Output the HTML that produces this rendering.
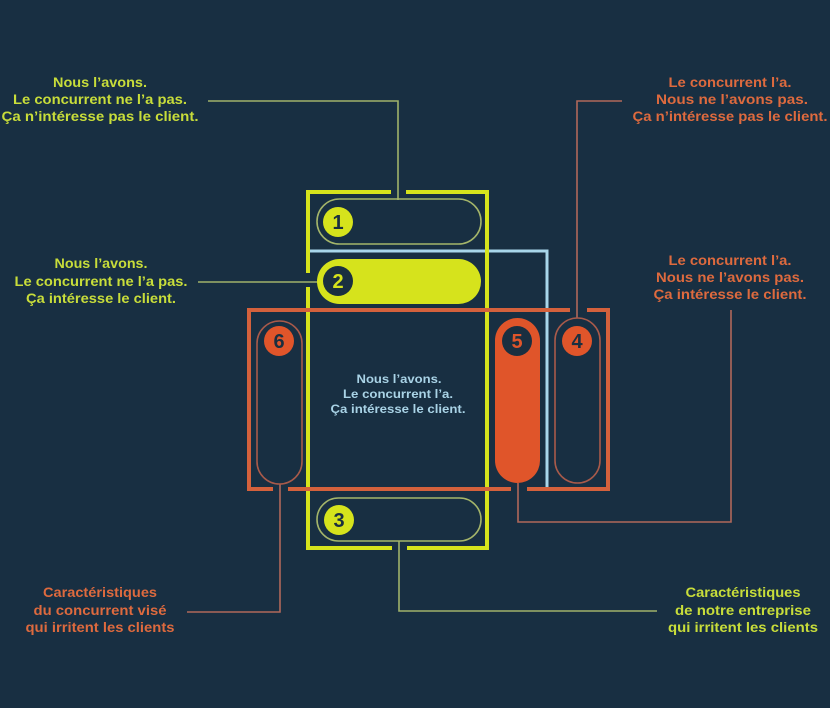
<!DOCTYPE html>
<html>
<head>
<meta charset="utf-8">
<style>
  html,body{margin:0;padding:0;background:#182f42;}
  svg{display:block;}
  text{font-family:"Liberation Sans",sans-serif;font-weight:bold;}
</style>
</head>
<body>
<svg width="830" height="708" viewBox="0 0 830 708" xmlns="http://www.w3.org/2000/svg">
  <rect width="830" height="708" fill="#182f42"/>

  <!-- connectors -->
  <g fill="none" stroke-width="1.6">
    <path d="M208,101 H398 V200" stroke="#9fb26a"/>
    <path d="M198,282 H318" stroke="#9fb26a"/>
    <path d="M399,541 V611 H657" stroke="#9fb26a"/>
    <path d="M622,101 H577 V318" stroke="#b0685a"/>
    <path d="M731,310 V522 H518 V483" stroke="#b0685a"/>
    <path d="M187,612 H280 V484" stroke="#b0685a"/>
  </g>

  <!-- light blue line -->
  <path d="M308,251 H547 V487" fill="none" stroke="#a8d6ea" stroke-width="3"/>

  <!-- yellow frame -->
  <path d="M391,192 H308 V273 M308,287 V548 H392 M407,548 H487 V192 H406" fill="none" stroke="#d6e31c" stroke-width="4"/>

  <!-- orange frame -->
  <path d="M570,310 H249 V489 H273 M288,489 H511 M527,489 H608 V310 H587" fill="none" stroke="#d4613c" stroke-width="4"/>

  <!-- pills -->
  <rect x="317" y="199" width="164" height="45" rx="22.5" fill="none" stroke="#a4b56a" stroke-width="1.6"/>
  <rect x="317" y="259" width="164" height="45" rx="22.5" fill="#d6e31c"/>
  <rect x="317" y="498" width="164" height="43" rx="21.5" fill="none" stroke="#a4b56a" stroke-width="1.6"/>
  <rect x="257" y="321" width="45" height="163" rx="22.5" fill="none" stroke="#a85a4a" stroke-width="1.6"/>
  <rect x="495" y="318" width="45" height="165" rx="22.5" fill="#e0552a"/>
  <rect x="555" y="318" width="45" height="165" rx="22.5" fill="none" stroke="#a85a4a" stroke-width="1.6"/>

  <!-- numbered circles -->
  <circle cx="338" cy="222" r="15" fill="#d6e31c"/>
  <text x="338" y="229" font-size="20" text-anchor="middle" fill="#1a2f40">1</text>
  <circle cx="338" cy="281" r="15" fill="#1a2f40"/>
  <text x="338" y="288" font-size="20" text-anchor="middle" fill="#d6e31c">2</text>
  <circle cx="339" cy="520" r="15" fill="#d6e31c"/>
  <text x="339" y="527" font-size="20" text-anchor="middle" fill="#1a2f40">3</text>
  <circle cx="577" cy="341" r="15" fill="#e0552a"/>
  <text x="577" y="348" font-size="20" text-anchor="middle" fill="#1a2f40">4</text>
  <circle cx="517" cy="341" r="15" fill="#1a2f40"/>
  <text x="517" y="348" font-size="20" text-anchor="middle" fill="#e0552a">5</text>
  <circle cx="279" cy="341" r="15" fill="#e0552a"/>
  <text x="279" y="348" font-size="20" text-anchor="middle" fill="#1a2f40">6</text>

  <!-- top-left text -->
  <g fill="#c8dd3a" font-size="14" text-anchor="middle">
    <text x="100" y="87" textLength="94" lengthAdjust="spacingAndGlyphs">Nous l’avons.</text>
    <text x="100" y="104" textLength="174" lengthAdjust="spacingAndGlyphs">Le concurrent ne l’a pas.</text>
    <text x="100" y="121" textLength="197" lengthAdjust="spacingAndGlyphs">Ça n’intéresse  pas le client.</text>
  </g>

  <!-- mid-left text -->
  <g fill="#c8dd3a" font-size="14" text-anchor="middle">
    <text x="101" y="268" textLength="93" lengthAdjust="spacingAndGlyphs">Nous l’avons.</text>
    <text x="101" y="286" textLength="173" lengthAdjust="spacingAndGlyphs">Le concurrent ne l’a pas.</text>
    <text x="101" y="303" textLength="150" lengthAdjust="spacingAndGlyphs">Ça intéresse  le client.</text>
  </g>

  <!-- top-right text -->
  <g fill="#de6a3e" font-size="14" text-anchor="middle">
    <text x="730" y="87" textLength="123" lengthAdjust="spacingAndGlyphs">Le concurrent l’a.</text>
    <text x="732" y="104" textLength="152" lengthAdjust="spacingAndGlyphs">Nous ne l’avons pas.</text>
    <text x="730" y="121" textLength="195" lengthAdjust="spacingAndGlyphs">Ça n’intéresse  pas le client.</text>
  </g>

  <!-- mid-right text -->
  <g fill="#de6a3e" font-size="14" text-anchor="middle">
    <text x="730" y="265" textLength="123" lengthAdjust="spacingAndGlyphs">Le concurrent l’a.</text>
    <text x="730" y="282" textLength="148" lengthAdjust="spacingAndGlyphs">Nous ne l’avons pas.</text>
    <text x="730" y="299" textLength="153" lengthAdjust="spacingAndGlyphs">Ça intéresse  le client.</text>
  </g>

  <!-- center text -->
  <g fill="#a9d3e6" font-size="12" text-anchor="middle">
    <text x="399" y="383" textLength="85" lengthAdjust="spacingAndGlyphs">Nous l’avons.</text>
    <text x="398" y="398" textLength="110" lengthAdjust="spacingAndGlyphs">Le concurrent l’a.</text>
    <text x="398" y="413" textLength="135" lengthAdjust="spacingAndGlyphs">Ça intéresse le client.</text>
  </g>

  <!-- bottom-left text -->
  <g fill="#de6a3e" font-size="14" text-anchor="middle">
    <text x="100" y="597" textLength="114" lengthAdjust="spacingAndGlyphs">Caractéristiques</text>
    <text x="100" y="615" textLength="133" lengthAdjust="spacingAndGlyphs">du concurrent visé</text>
    <text x="100" y="632" textLength="149" lengthAdjust="spacingAndGlyphs">qui irritent les clients</text>
  </g>

  <!-- bottom-right text -->
  <g fill="#c8dd3a" font-size="14" text-anchor="middle">
    <text x="743" y="597" textLength="115" lengthAdjust="spacingAndGlyphs">Caractéristiques</text>
    <text x="743" y="615" textLength="136" lengthAdjust="spacingAndGlyphs">de notre entreprise</text>
    <text x="743" y="632" textLength="150" lengthAdjust="spacingAndGlyphs">qui irritent les clients</text>
  </g>
</svg>
</body>
</html>
